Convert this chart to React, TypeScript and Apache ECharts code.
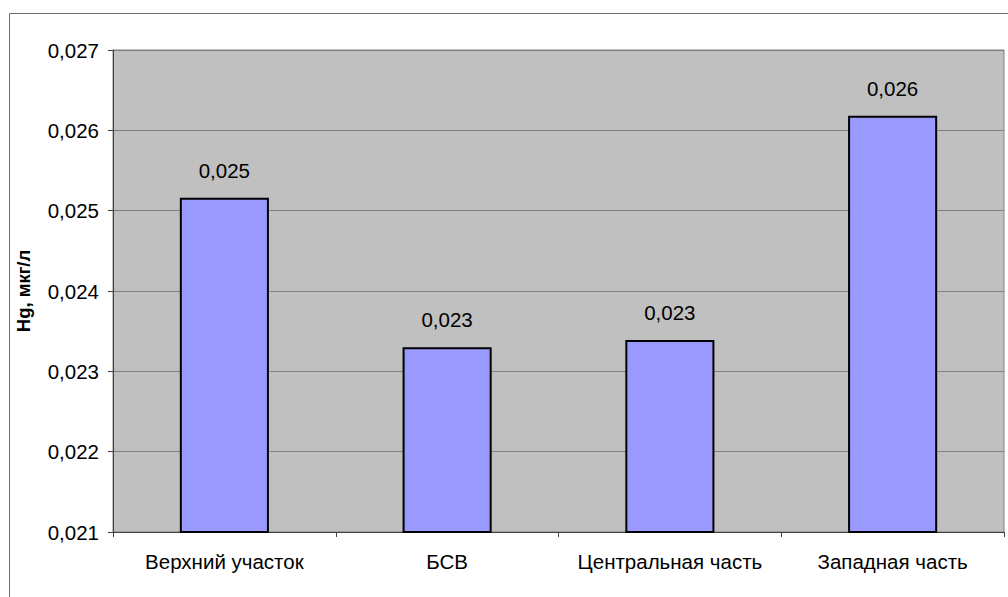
import React, { useEffect, useRef } from "react";
import * as echarts from "echarts";

const categories = ["Верхний участок", "БСВ", "Центральная часть", "Западная часть"];
const hgValues = [0.02516, 0.0233, 0.02339, 0.02618];
const yMin = 0.021;
const yMax = 0.027;
const yStep = 0.001;
const yAxisTitle = "Hg, мкг/л";

const FONT = "'Liberation Sans', Arial, sans-serif";

const fmt = (v: number) => v.toFixed(3).replace(".", ",");

export default function App() {
  const ref = useRef<HTMLDivElement>(null);

  useEffect(() => {
    if (!ref.current) return;
    const chart = echarts.init(ref.current, undefined, { renderer: "svg" });
    chart.setOption({
      animation: false,
      backgroundColor: "#ffffff",
      textStyle: { fontFamily: FONT },
      graphic: [
        {
          type: "rect",
          shape: { x: 9.5, y: 13.5, width: 1020, height: 620 },
          style: { fill: "none", stroke: "#6e6e6e", lineWidth: 1 },
          silent: true,
          z: -1,
        },
      ],
      grid: {
        left: 113,
        top: 50,
        right: 4,
        bottom: 65,
        show: true,
        backgroundColor: "#C0C0C0",
        borderColor: "#808080",
        borderWidth: 1,
      },
      xAxis: {
        type: "category",
        data: categories,
        axisLine: { lineStyle: { color: "#404040", width: 1 } },
        axisTick: { show: true, length: 5, lineStyle: { color: "#404040" } },
        axisLabel: {
          color: "#000",
          fontSize: 20.5,
          fontFamily: FONT,
          margin: 19,
          interval: 0,
          hideOverlap: false,
        },
      },
      yAxis: {
        type: "value",
        min: yMin,
        max: yMax,
        interval: yStep,
        name: yAxisTitle,
        nameLocation: "middle",
        nameGap: 80,
        nameTextStyle: { color: "#000", fontSize: 18.5, fontWeight: "bold", fontFamily: FONT },
        axisLine: { show: true, lineStyle: { color: "#404040", width: 1 } },
        axisTick: { show: true, length: 5, lineStyle: { color: "#404040" } },
        axisLabel: { color: "#000", fontSize: 20.5, fontFamily: FONT, margin: 14, formatter: (v: number) => fmt(v) },
        splitLine: { show: true, lineStyle: { color: "#808080", width: 1 } },
      },
      series: [
        {
          type: "bar",
          data: hgValues,
          barWidth: "40%",
          itemStyle: { color: "#9999FF", borderColor: "#000000", borderWidth: 2 },
          label: {
            show: true,
            position: "top",
            distance: 17,
            color: "#000",
            fontSize: 20.5,
            fontFamily: FONT,
            formatter: (p: any) => fmt(p.value),
          },
        },
      ],
    });
    return () => chart.dispose();
  }, []);

  return (
    <div
      ref={ref}
      style={{ position: "absolute", left: 0, top: 0, width: 1008, height: 597 }}
    />
  );
}
